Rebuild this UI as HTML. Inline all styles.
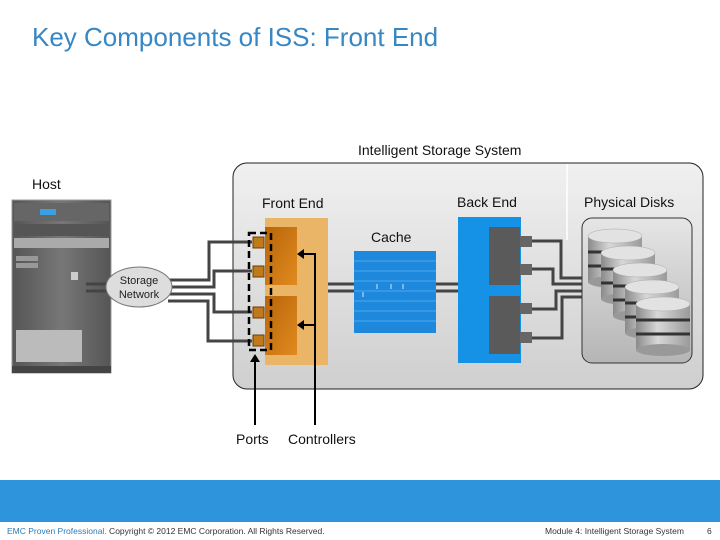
<!DOCTYPE html>
<html><head><meta charset="utf-8"><style>
html,body{margin:0;padding:0;background:#fff;}
svg{display:block;font-family:"Liberation Sans",sans-serif;}
</style></head><body>
<svg width="720" height="540" viewBox="0 0 720 540" xmlns="http://www.w3.org/2000/svg">
<defs>
<linearGradient id="bg" x1="0" y1="0" x2="0" y2="1"><stop offset="0" stop-color="#f0f0f0"/><stop offset="1" stop-color="#cfcfcf"/></linearGradient>
<linearGradient id="dk" x1="0" y1="0" x2="0" y2="1"><stop offset="0" stop-color="#e6e6e6"/><stop offset="1" stop-color="#b5b5b5"/></linearGradient>
<linearGradient id="or" x1="0" y1="0" x2="1" y2="1"><stop offset="0" stop-color="#b8650a"/><stop offset="1" stop-color="#e08a1e"/></linearGradient>
<linearGradient id="cyl" x1="0" y1="0" x2="1" y2="0"><stop offset="0" stop-color="#8a8a8a"/><stop offset="0.4" stop-color="#d8d8d8"/><stop offset="1" stop-color="#9a9a9a"/></linearGradient>
<linearGradient id="rack" x1="0" y1="0" x2="1" y2="0"><stop offset="0" stop-color="#555"/><stop offset="0.5" stop-color="#777"/><stop offset="1" stop-color="#555"/></linearGradient>
<g id="c"><rect x="0" y="6" width="54" height="46" fill="url(#cyl)"/><ellipse cx="27" cy="52" rx="27" ry="6" fill="#999"/><path d="M0 22h54M0 36h54" stroke="#333" stroke-width="3"/><ellipse cx="27" cy="6" rx="27" ry="7" fill="#e2e2e2" stroke="#aaa" stroke-width="0.5"/></g>
</defs>
<text x="32" y="46" font-size="26" fill="#3787c4">Key Components of ISS: Front End</text>
<text x="358" y="155" font-size="14" fill="#111">Intelligent Storage System</text>
<text x="32" y="189" font-size="14" fill="#111">Host</text>

<rect x="233" y="163" width="470" height="226" rx="14" fill="url(#bg)" stroke="#222" stroke-width="1"/>
<line x1="567" y1="164" x2="567" y2="240" stroke="#fff" stroke-width="1.5"/>

<rect x="12" y="200" width="99" height="173" fill="url(#rack)" stroke="#999"/>
<rect x="14" y="203" width="95" height="18" fill="#666"/>
<rect x="40" y="209" width="16" height="6" fill="#3aa0e0"/>
<rect x="14" y="224" width="95" height="12" fill="#555"/>
<rect x="14" y="238" width="95" height="10" fill="#aaa"/>
<rect x="16" y="256" width="22" height="5" fill="#999"/><rect x="16" y="263" width="22" height="5" fill="#999"/>
<rect x="71" y="272" width="7" height="8" fill="#ccc"/>
<rect x="16" y="330" width="66" height="32" fill="#bbb"/>
<rect x="12" y="366" width="99" height="7" fill="#444"/>

<path d="M86 284H110M86 291H110" stroke="#444" stroke-width="3" fill="none"/>
<g stroke="#444" stroke-width="3" fill="none">
<path d="M168 280H209V242H252"/>
<path d="M168 287H214V271H252"/>
<path d="M168 294H214V312H252"/>
<path d="M168 301H208V341H252"/>
</g>
<ellipse cx="139" cy="287" rx="33" ry="20" fill="#ddd" stroke="#777"/>
<text x="139" y="284" font-size="11" text-anchor="middle" fill="#222">Storage</text>
<text x="139" y="298" font-size="11" text-anchor="middle" fill="#222">Network</text>

<text x="262" y="208" font-size="14" fill="#111">Front End</text>
<rect x="265" y="218" width="63" height="147" fill="#eab566"/>
<rect x="265" y="227" width="32" height="58" fill="url(#or)"/>
<rect x="265" y="296" width="32" height="59" fill="url(#or)"/>
<g fill="#c07a1a" stroke="#6a3c08" stroke-width="1">
<rect x="253" y="237" width="11" height="11"/><rect x="253" y="266" width="11" height="11"/>
<rect x="253" y="307" width="11" height="11"/><rect x="253" y="335" width="11" height="11"/>
</g>
<rect x="249" y="233" width="22" height="117" fill="none" stroke="#000" stroke-width="2.5" stroke-dasharray="7,4"/>
<g stroke="#000" stroke-width="2" fill="none">
<path d="M255 425V360"/><path d="M315 425V254H302"/><path d="M315 325H302"/>
</g>
<path d="M255 354l-5 8h10z M297 254l7-5v10z M297 325l7-5v10z" fill="#000"/>

<path d="M328 284H458M328 291H458" stroke="#444" stroke-width="3"/>
<text x="371" y="242" font-size="14" fill="#111">Cache</text>
<rect x="354" y="251" width="82" height="82" fill="#1e88dc"/>
<g stroke="#4aa8ee" stroke-width="1"><path d="M354 261H436M354 271H436M354 281H436M354 291H436M354 301H436M354 311H436M354 321H436"/></g>
<g stroke="#cfe8ff" stroke-width="1"><path d="M377 284v5M391 284v5M403 284v5M363 292v5"/></g>

<text x="457" y="207" font-size="14" fill="#111">Back End</text>
<rect x="458" y="217" width="63" height="146" fill="#1592e6"/>
<rect x="489" y="227" width="31" height="58" fill="#5a5a5a"/>
<rect x="489" y="296" width="31" height="58" fill="#5a5a5a"/>
<g fill="#666"><rect x="520" y="236" width="12" height="11"/><rect x="520" y="264" width="12" height="11"/><rect x="520" y="303" width="12" height="11"/><rect x="520" y="332" width="12" height="11"/></g>
<g stroke="#444" stroke-width="3" fill="none">
<path d="M532 241H561V278H582"/><path d="M532 269H553V284H582"/>
<path d="M532 309H556V291H582"/><path d="M532 338H562V297H582"/>
</g>
<text x="584" y="207" font-size="14" fill="#111">Physical Disks</text>
<rect x="582" y="218" width="110" height="145" rx="10" fill="url(#dk)" stroke="#333"/>
<use href="#c" x="588" y="230"/>
<use href="#c" x="601" y="247"/>
<use href="#c" x="613" y="264"/>
<use href="#c" x="625" y="281"/>
<use href="#c" x="636" y="298"/>

<text x="236" y="444" font-size="14" fill="#111">Ports</text>
<text x="288" y="444" font-size="14" fill="#111">Controllers</text>

<rect x="0" y="480" width="720" height="42" fill="#2e94dc"/>
<text x="7" y="534" font-size="8.5" fill="#333"><tspan fill="#2c7ab8">EMC Proven Professional.</tspan> Copyright © 2012 EMC Corporation. All Rights Reserved.</text>
<text x="545" y="534" font-size="8.5" fill="#333">Module 4: Intelligent Storage System</text>
<text x="707" y="534" font-size="8.5" fill="#333">6</text>
</svg>
</body></html>
